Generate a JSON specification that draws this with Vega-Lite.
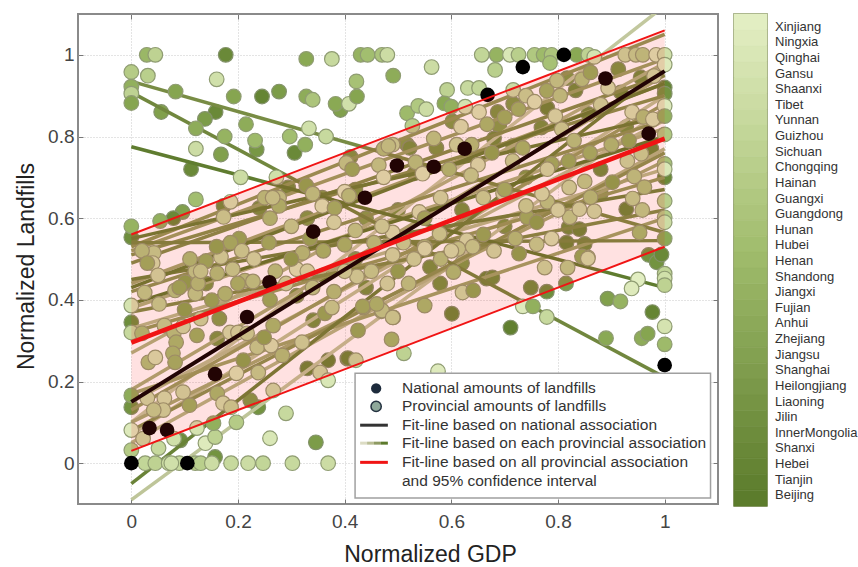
{"$schema":"https://vega.github.io/schema/vega-lite/v6.json","padding":{"left":14,"top":12,"right":0,"bottom":0},"spacing":12,"background":"white","config":{"font":"Liberation Sans","axis":{"labelFont":"Liberation Sans","titleFont":"Liberation Sans"},"text":{"font":"Liberation Sans"}},
"datasets":{
"points":[
{"x":0.029,"y":1,"rank":17},{"x":0.045,"y":1,"rank":9},{"x":0.177,"y":1,"rank":28},{"x":0.328,"y":0.99,"rank":21},{"x":0.376,"y":0.99,"rank":7},{"x":0.43,"y":1,"rank":18},{"x":0.443,"y":1,"rank":15},{"x":0.47,"y":1,"rank":13},{"x":0.48,"y":1,"rank":6},
{"x":0.657,"y":1,"rank":8},{"x":0.685,"y":1,"rank":18},{"x":0.71,"y":1,"rank":3},{"x":0.726,"y":1,"rank":10},{"x":0.756,"y":1,"rank":12},{"x":0.773,"y":1,"rank":16},{"x":0.788,"y":1,"rank":13},{"x":0.835,"y":1,"rank":21},{"x":0.857,"y":1,"rank":9},{"x":0.868,"y":0.995,"rank":4},{"x":0.785,"y":0.98,"rank":14},{"x":0.682,"y":0.963,"rank":10},{"x":0.563,"y":0.97,"rank":6},{"x":0.491,"y":0.949,"rank":20},
{"x":0.926,"y":1,"rank":7},{"x":0.946,"y":1,"rank":9},{"x":0.959,"y":1,"rank":11},{"x":0.984,"y":1,"rank":3},{"x":1,"y":1,"rank":5},{"x":1,"y":0.976,"rank":2},
{"x":0,"y":0.958,"rank":11},{"x":0.031,"y":0.949,"rank":10},{"x":0,"y":0.922,"rank":19},{"x":0,"y":0.905,"rank":9},{"x":0,"y":0.882,"rank":22},{"x":0.056,"y":0.86,"rank":23},{"x":0.083,"y":0.91,"rank":22},{"x":0.158,"y":0.86,"rank":28},{"x":0.138,"y":0.843,"rank":24},{"x":0.121,"y":0.82,"rank":20},{"x":0.175,"y":0.8,"rank":18},{"x":0.192,"y":0.898,"rank":22},{"x":0.16,"y":0.94,"rank":5},{"x":0.245,"y":0.898,"rank":29},{"x":0.277,"y":0.91,"rank":24},{"x":0.215,"y":0.83,"rank":20},{"x":0.232,"y":0.79,"rank":16},{"x":0.235,"y":0.768,"rank":25},{"x":0.168,"y":0.756,"rank":23},{"x":0.121,"y":0.77,"rank":6},{"x":0.112,"y":0.72,"rank":28},{"x":0.205,"y":0.7,"rank":6},{"x":0.272,"y":0.7,"rank":5},{"x":0.121,"y":0.646,"rank":15},{"x":0.186,"y":0.64,"rank":4},{"x":0.173,"y":0.63,"rank":27},{"x":0.173,"y":0.603,"rank":8},{"x":0.096,"y":0.615,"rank":23},{"x":0.079,"y":0.6,"rank":28},{"x":0.054,"y":0.593,"rank":19},{"x":0,"y":0.58,"rank":18},{"x":0,"y":0.553,"rank":27},
{"x":0.328,"y":0.898,"rank":20},{"x":0.34,"y":0.89,"rank":13},{"x":0.383,"y":0.88,"rank":21},{"x":0.392,"y":0.865,"rank":23},{"x":0.408,"y":0.88,"rank":5},{"x":0.423,"y":0.898,"rank":22},{"x":0.422,"y":0.935,"rank":14},{"x":0.297,"y":0.8,"rank":15},{"x":0.326,"y":0.78,"rank":19},{"x":0.306,"y":0.76,"rank":28},{"x":0.333,"y":0.82,"rank":5},{"x":0.365,"y":0.8,"rank":7},{"x":0.411,"y":0.75,"rank":25},{"x":0.403,"y":0.735,"rank":10},{"x":0.414,"y":0.72,"rank":19},{"x":0.473,"y":0.77,"rank":13},{"x":0.49,"y":0.78,"rank":8},{"x":0.464,"y":0.73,"rank":10},{"x":0.473,"y":0.7,"rank":3},{"x":0.4,"y":0.665,"rank":2},{"x":0.42,"y":0.67,"rank":24},{"x":0.408,"y":0.655,"rank":12},
{"x":0.328,"y":0.68,"rank":21},{"x":0.294,"y":0.675,"rank":27},{"x":0.34,"y":0.66,"rank":11},{"x":0.358,"y":0.65,"rank":23},{"x":0.358,"y":0.63,"rank":3},{"x":0.381,"y":0.625,"rank":17},{"x":0.25,"y":0.65,"rank":12},{"x":0.277,"y":0.65,"rank":10},{"x":0.277,"y":0.63,"rank":15},{"x":0.24,"y":0.625,"rank":26},{"x":0.265,"y":0.65,"rank":9},
{"x":0.202,"y":0.55,"rank":20},{"x":0.186,"y":0.54,"rank":17},{"x":0.258,"y":0.54,"rank":18},{"x":0.335,"y":0.55,"rank":20},{"x":0.321,"y":0.515,"rank":13},{"x":0.4,"y":0.535,"rank":16},{"x":0.455,"y":0.54,"rank":12},{"x":0.49,"y":0.565,"rank":4},{"x":0.51,"y":0.54,"rank":8},{"x":0.042,"y":0.515,"rank":9},{"x":0.04,"y":0.49,"rank":5},{"x":0.14,"y":0.495,"rank":19},{"x":0.168,"y":0.505,"rank":7},{"x":0.207,"y":0.52,"rank":8},{"x":0.19,"y":0.475,"rank":9},{"x":0.12,"y":0.47,"rank":10},{"x":0.31,"y":0.475,"rank":3},{"x":0.49,"y":0.51,"rank":6},
{"x":0.592,"y":0.914,"rank":9},{"x":0.631,"y":0.919,"rank":7},{"x":0.652,"y":0.919,"rank":8},{"x":0.587,"y":0.881,"rank":21},{"x":0.6,"y":0.873,"rank":19},{"x":0.626,"y":0.873,"rank":4},{"x":0.517,"y":0.857,"rank":16},{"x":0.538,"y":0.875,"rank":12},{"x":0.553,"y":0.867,"rank":6},{"x":0.527,"y":0.826,"rank":10},{"x":0.602,"y":0.837,"rank":24},{"x":0.618,"y":0.824,"rank":4},{"x":0.652,"y":0.86,"rank":3},{"x":0.667,"y":0.83,"rank":15},{"x":0.687,"y":0.86,"rank":25},{"x":0.7,"y":0.847,"rank":18},{"x":0.69,"y":0.825,"rank":23},{"x":0.716,"y":0.914,"rank":6},{"x":0.74,"y":0.9,"rank":8},{"x":0.716,"y":0.88,"rank":24},{"x":0.726,"y":0.867,"rank":17},{"x":0.756,"y":0.885,"rank":3},{"x":0.78,"y":0.87,"rank":28},{"x":0.795,"y":0.85,"rank":5},{"x":0.769,"y":0.822,"rank":26},{"x":0.779,"y":0.912,"rank":17},{"x":0.804,"y":0.9,"rank":11},{"x":0.798,"y":0.937,"rank":10},{"x":0.817,"y":0.943,"rank":24},{"x":0.845,"y":0.94,"rank":12},{"x":0.861,"y":0.957,"rank":19},{"x":0.833,"y":0.913,"rank":27},{"x":0.88,"y":0.878,"rank":7},{"x":0.857,"y":0.855,"rank":27},{"x":0.807,"y":0.818,"rank":8},{"x":0.894,"y":0.919,"rank":5},{"x":0.913,"y":0.965,"rank":25},{"x":0.955,"y":0.945,"rank":27},{"x":0.98,"y":0.948,"rank":6},{"x":0.918,"y":0.908,"rank":28},{"x":0.939,"y":0.86,"rank":4},{"x":0.96,"y":0.848,"rank":13},{"x":0.978,"y":0.842,"rank":4},{"x":0.928,"y":0.823,"rank":26},{"x":0.933,"y":0.79,"rank":20},{"x":0.956,"y":0.758,"rank":8},{"x":0.975,"y":0.77,"rank":28},
{"x":0.482,"y":0.777,"rank":10},{"x":0.517,"y":0.78,"rank":23},{"x":0.522,"y":0.772,"rank":26},{"x":0.567,"y":0.795,"rank":11},{"x":0.572,"y":0.772,"rank":25},{"x":0.61,"y":0.78,"rank":7},{"x":0.638,"y":0.78,"rank":13},{"x":0.68,"y":0.795,"rank":27},{"x":0.716,"y":0.777,"rank":26},{"x":0.734,"y":0.772,"rank":16},{"x":0.676,"y":0.76,"rank":21},{"x":0.715,"y":0.74,"rank":8},{"x":0.533,"y":0.737,"rank":12},{"x":0.546,"y":0.709,"rank":3},{"x":0.596,"y":0.72,"rank":14},{"x":0.65,"y":0.731,"rank":4},{"x":0.637,"y":0.705,"rank":9},{"x":0.531,"y":0.71,"rank":26},{"x":0.788,"y":0.733,"rank":18},{"x":0.86,"y":0.76,"rank":17},
{"x":1,"y":0.805,"rank":12},{"x":1,"y":0.875,"rank":2},{"x":1,"y":0.92,"rank":29},{"x":1,"y":0.905,"rank":26},{"x":1,"y":0.85,"rank":19},{"x":1,"y":0.733,"rank":14},{"x":1,"y":0.72,"rank":3},{"x":1,"y":0.7,"rank":28},{"x":1,"y":0.642,"rank":10},{"x":1,"y":0.602,"rank":11},{"x":1,"y":0.59,"rank":6},{"x":1,"y":0.55,"rank":21},{"x":0.97,"y":0.51,"rank":26},
{"x":0.697,"y":0.661,"rank":5},{"x":0.578,"y":0.562,"rank":8},{"x":0.629,"y":0.546,"rank":5},{"x":0.613,"y":0.525,"rank":9},{"x":0.55,"y":0.53,"rank":12},{"x":0.55,"y":0.525,"rank":4},{"x":0.54,"y":0.615,"rank":4},{"x":0.742,"y":0.602,"rank":18},{"x":0.727,"y":0.513,"rank":22},{"x":0.76,"y":0.536,"rank":9},{"x":0.788,"y":0.55,"rank":4},{"x":0.816,"y":0.54,"rank":28},{"x":0.82,"y":0.578,"rank":27},{"x":0.84,"y":0.573,"rank":28},{"x":0.85,"y":0.537,"rank":27},{"x":0.856,"y":0.504,"rank":7},{"x":0.822,"y":0.602,"rank":10},{"x":0.84,"y":0.622,"rank":6},{"x":0.868,"y":0.617,"rank":6},{"x":0.861,"y":0.651,"rank":13},{"x":0.902,"y":0.688,"rank":22},{"x":0.943,"y":0.702,"rank":11},{"x":0.962,"y":0.676,"rank":13},{"x":0.94,"y":0.648,"rank":9},{"x":0.958,"y":0.62,"rank":10},{"x":0.928,"y":0.622,"rank":28},{"x":0.953,"y":0.565,"rank":15},{"x":0.821,"y":0.675,"rank":7},
{"x":0.604,"y":0.468,"rank":14},{"x":0.579,"y":0.44,"rank":26},{"x":0.621,"y":0.418,"rank":6},{"x":0.641,"y":0.423,"rank":21},{"x":0.666,"y":0.452,"rank":28},{"x":0.677,"y":0.455,"rank":27},{"x":0.749,"y":0.43,"rank":27},{"x":0.779,"y":0.42,"rank":27},{"x":0.815,"y":0.44,"rank":24},{"x":0.775,"y":0.479,"rank":7},{"x":0.818,"y":0.479,"rank":10},{"x":0.845,"y":0.506,"rank":20},{"x":0.856,"y":0.501,"rank":5},{"x":0.985,"y":0.492,"rank":26},{"x":0.994,"y":0.511,"rank":28},{"x":1,"y":0.464,"rank":8},{"x":1,"y":0.452,"rank":5},{"x":1,"y":0.436,"rank":9},{"x":0.95,"y":0.45,"rank":1},{"x":0.938,"y":0.428,"rank":2},{"x":0.893,"y":0.403,"rank":23},{"x":0.917,"y":0.396,"rank":18},{"x":0.734,"y":0.384,"rank":2},{"x":0.753,"y":0.384,"rank":19},{"x":0.779,"y":0.358,"rank":7},{"x":0.711,"y":0.332,"rank":30},{"x":0.601,"y":0.366,"rank":28},{"x":0.55,"y":0.386,"rank":15},{"x":0.488,"y":0.303,"rank":16},{"x":0.511,"y":0.269,"rank":9},{"x":0.421,"y":0.252,"rank":7},{"x":0.405,"y":0.256,"rank":27},{"x":0.575,"y":0.225,"rank":2},{"x":0.435,"y":0.381,"rank":13},{"x":0.469,"y":0.372,"rank":8},{"x":0.491,"y":0.357,"rank":20},{"x":0.425,"y":0.325,"rank":20},{"x":0.977,"y":0.37,"rank":29},{"x":1,"y":0.335,"rank":4},{"x":1,"y":0.291,"rank":16},{"x":0.89,"y":0.306,"rank":21},{"x":0.957,"y":0.306,"rank":20},{"x":0.968,"y":0.317,"rank":22},
{"x":0.025,"y":0.418,"rank":10},{"x":0.082,"y":0.423,"rank":12},{"x":0.12,"y":0.415,"rank":10},{"x":0.052,"y":0.39,"rank":9},{"x":0.1,"y":0.376,"rank":22},{"x":0.151,"y":0.399,"rank":20},{"x":0.176,"y":0.415,"rank":14},{"x":0,"y":0.386,"rank":4},{"x":0,"y":0.345,"rank":27},{"x":0,"y":0.32,"rank":7},{"x":0.02,"y":0.318,"rank":14},{"x":0.062,"y":0.337,"rank":9},{"x":0.08,"y":0.32,"rank":12},{"x":0.084,"y":0.296,"rank":15},{"x":0.123,"y":0.313,"rank":18},{"x":0.161,"y":0.305,"rank":25},{"x":0.165,"y":0.354,"rank":23},{"x":0.13,"y":0.354,"rank":7},{"x":0.097,"y":0.335,"rank":6},{"x":0.032,"y":0.247,"rank":13},{"x":0.045,"y":0.259,"rank":4},{"x":0.078,"y":0.269,"rank":15},{"x":0.082,"y":0.247,"rank":17},{"x":0.185,"y":0.32,"rank":5},{"x":0.2,"y":0.32,"rank":6},{"x":0.217,"y":0.318,"rank":8},{"x":0.236,"y":0.284,"rank":9},{"x":0.262,"y":0.288,"rank":4},{"x":0.249,"y":0.308,"rank":21},{"x":0.266,"y":0.337,"rank":15},{"x":0.21,"y":0.252,"rank":22},{"x":0.283,"y":0.264,"rank":13},{"x":0.32,"y":0.296,"rank":7},{"x":0.197,"y":0.22,"rank":3},{"x":0.238,"y":0.222,"rank":9},{"x":0.33,"y":0.232,"rank":28},{"x":0.369,"y":0.252,"rank":29},{"x":0.406,"y":0.257,"rank":28},{"x":0.354,"y":0.222,"rank":6},{"x":0.369,"y":0.203,"rank":3},{"x":0.266,"y":0.178,"rank":6},{"x":0.341,"y":0.35,"rank":26},{"x":0.363,"y":0.367,"rank":20},{"x":0.434,"y":0.384,"rank":18},{"x":0.47,"y":0.374,"rank":10},{"x":0.49,"y":0.357,"rank":8},{"x":0.376,"y":0.381,"rank":9},
{"x":0.161,"y":0.465,"rank":13},{"x":0.213,"y":0.447,"rank":12},{"x":0.228,"y":0.445,"rank":11},{"x":0.101,"y":0.443,"rank":22},{"x":0.125,"y":0.44,"rank":13},{"x":0.423,"y":0.457,"rank":7},
{"x":0,"y":0.166,"rank":20},{"x":0,"y":0.137,"rank":26},{"x":0.03,"y":0.159,"rank":6},{"x":0.062,"y":0.159,"rank":5},{"x":0.06,"y":0.13,"rank":7},{"x":0.042,"y":0.13,"rank":9},{"x":0.097,"y":0.174,"rank":6},{"x":0.109,"y":0.142,"rank":18},{"x":0.161,"y":0.171,"rank":15},{"x":0.172,"y":0.147,"rank":5},{"x":0.187,"y":0.137,"rank":8},{"x":0.238,"y":0.137,"rank":26},{"x":0.223,"y":0.154,"rank":24},{"x":0,"y":0.081,"rank":2},{"x":0,"y":0.032,"rank":11},{"x":0.022,"y":0.06,"rank":6},{"x":0.051,"y":0.037,"rank":7},{"x":0.08,"y":0.06,"rank":5},{"x":0.092,"y":0.056,"rank":27},{"x":0.123,"y":0.086,"rank":4},{"x":0.139,"y":0.049,"rank":2},{"x":0.157,"y":0.064,"rank":9},{"x":0.157,"y":0.015,"rank":26},{"x":0.197,"y":0.1,"rank":11},{"x":0.154,"y":0.098,"rank":19},{"x":0.29,"y":0.122,"rank":7},{"x":0.26,"y":0.061,"rank":3},{"x":0.346,"y":0.051,"rank":24},
{"x":0.026,"y":0,"rank":8},{"x":0.045,"y":0,"rank":9},{"x":0.07,"y":0,"rank":6},{"x":0.09,"y":0,"rank":7},{"x":0.12,"y":0,"rank":11},{"x":0.13,"y":0,"rank":10},{"x":0.151,"y":0,"rank":6},{"x":0.187,"y":0,"rank":7},{"x":0.219,"y":0,"rank":6},{"x":0.247,"y":0,"rank":8},{"x":0.302,"y":0,"rank":7},{"x":0.369,"y":0,"rank":6},{"x":0.075,"y":0,"rank":5},
{"x":0.02,"y":0.52,"rank":12},{"x":0.03,"y":0.49,"rank":18},{"x":0.05,"y":0.46,"rank":6},{"x":0.09,"y":0.43,"rank":19},{"x":0.11,"y":0.5,"rank":14},{"x":0.14,"y":0.44,"rank":25},{"x":0.16,"y":0.53,"rank":21},{"x":0.13,"y":0.47,"rank":9},{"x":0.2,"y":0.44,"rank":16},{"x":0.23,"y":0.5,"rank":6},{"x":0.27,"y":0.47,"rank":12},{"x":0.29,"y":0.44,"rank":7},{"x":0.31,"y":0.41,"rank":25},{"x":0.34,"y":0.43,"rank":10},{"x":0.26,"y":0.4,"rank":19},{"x":0.3,"y":0.5,"rank":22},{"x":0.33,"y":0.47,"rank":5},{"x":0.36,"y":0.46,"rank":28},{"x":0.38,"y":0.42,"rank":13},{"x":0.4,"y":0.47,"rank":7},{"x":0.42,"y":0.5,"rank":24},{"x":0.45,"y":0.47,"rank":9},{"x":0.44,"y":0.43,"rank":26},{"x":0.46,"y":0.39,"rank":15},{"x":0.48,"y":0.44,"rank":6},{"x":0.5,"y":0.47,"rank":21},{"x":0.52,"y":0.44,"rank":11},{"x":0.53,"y":0.5,"rank":7},{"x":0.56,"y":0.48,"rank":26},{"x":0.58,"y":0.5,"rank":12},{"x":0.6,"y":0.52,"rank":5},{"x":0.62,"y":0.49,"rank":24},{"x":0.64,"y":0.53,"rank":9},{"x":0.66,"y":0.56,"rank":20},{"x":0.68,"y":0.52,"rank":6},{"x":0.7,"y":0.58,"rank":25},{"x":0.72,"y":0.55,"rank":13},{"x":0.74,"y":0.63,"rank":8},{"x":0.76,"y":0.59,"rank":22},{"x":0.78,"y":0.64,"rank":11},{"x":0.8,"y":0.62,"rank":5},{"x":0.55,"y":0.6,"rank":18},{"x":0.5,"y":0.62,"rank":25},{"x":0.47,"y":0.58,"rank":7},{"x":0.44,"y":0.6,"rank":23},{"x":0.42,"y":0.57,"rank":10},{"x":0.38,"y":0.59,"rank":5},{"x":0.36,"y":0.52,"rank":16},{"x":0.33,"y":0.6,"rank":24},{"x":0.3,"y":0.58,"rank":9},{"x":0.26,"y":0.6,"rank":14},{"x":0.58,"y":0.65,"rank":6},{"x":0.62,"y":0.62,"rank":26},{"x":0.66,"y":0.65,"rank":8},{"x":0.7,"y":0.67,"rank":17},{"x":0.74,"y":0.7,"rank":24},{"x":0.78,"y":0.72,"rank":6},{"x":0.82,"y":0.74,"rank":19},{"x":0.85,"y":0.69,"rank":10},{"x":0.88,"y":0.72,"rank":27},{"x":0.9,"y":0.78,"rank":14},{"x":0.93,"y":0.74,"rank":7},{"x":0.88,"y":0.66,"rank":23},{"x":0.83,"y":0.79,"rank":12},{"x":0.77,"y":0.66,"rank":5}
],
"fits":[
{"rank":1,"x":0,"y":0.1},{"rank":1,"x":1,"y":1.12},{"rank":2,"x":0,"y":-0.09},{"rank":2,"x":1,"y":0.87},{"rank":3,"x":0,"y":0.07},{"rank":3,"x":1,"y":0.9},{"rank":4,"x":0,"y":0.15},{"rank":4,"x":1,"y":0.84},{"rank":5,"x":0,"y":0.33},{"rank":5,"x":1,"y":0.72},{"rank":6,"x":0,"y":0.05},{"rank":6,"x":1,"y":0.77},{"rank":7,"x":0,"y":0.27},{"rank":7,"x":1,"y":0.98},{"rank":8,"x":0,"y":0.38},{"rank":8,"x":1,"y":0.82},{"rank":9,"x":0,"y":0.18},{"rank":9,"x":1,"y":0.95},{"rank":10,"x":0,"y":0.1},{"rank":10,"x":1,"y":0.74},{"rank":11,"x":0,"y":0.44},{"rank":11,"x":1,"y":0.93},{"rank":12,"x":0,"y":0.17},{"rank":12,"x":1,"y":0.6},{"rank":13,"x":0,"y":0.52},{"rank":13,"x":1,"y":0.99},{"rank":14,"x":0,"y":0.13},{"rank":14,"x":1,"y":0.88},{"rank":15,"x":0,"y":0.32},{"rank":15,"x":1,"y":0.7},{"rank":16,"x":0,"y":0.53},{"rank":16,"x":1,"y":1.05},{"rank":17,"x":0,"y":0.42},{"rank":17,"x":1,"y":0.84},{"rank":18,"x":0,"y":0.08},{"rank":18,"x":1,"y":0.76},{"rank":19,"x":0,"y":0.51},{"rank":19,"x":1,"y":0.9},{"rank":20,"x":0,"y":0.49},{"rank":20,"x":1,"y":0.95},{"rank":21,"x":0,"y":0.37},{"rank":21,"x":1,"y":0.62},{"rank":22,"x":0,"y":0.935},{"rank":22,"x":1,"y":0.565},{"rank":23,"x":0,"y":0.54},{"rank":23,"x":1,"y":0.545},{"rank":24,"x":0,"y":0.908},{"rank":24,"x":1,"y":0.21},{"rank":25,"x":0,"y":0.45},{"rank":25,"x":1,"y":0.67},{"rank":26,"x":0,"y":-0.05},{"rank":26,"x":1,"y":0.97},{"rank":27,"x":0,"y":0.55},{"rank":27,"x":1,"y":0.85},{"rank":28,"x":0,"y":0.43},{"rank":28,"x":1,"y":0.93},{"rank":29,"x":0,"y":0.775},{"rank":29,"x":1,"y":0.43},{"rank":30,"x":0,"y":0.39},{"rank":30,"x":1,"y":0.8}
],
"national":[
{"x":0,"y":0},{"x":0.034,"y":0.086},{"x":0.067,"y":0.081},{"x":0.105,"y":0},{"x":0.157,"y":0.218},{"x":0.217,"y":0.358},{"x":0.259,"y":0.443},{"x":0.341,"y":0.567},{"x":0.438,"y":0.65},{"x":0.498,"y":0.729},{"x":0.567,"y":0.726},{"x":0.625,"y":0.77},{"x":0.668,"y":0.902},{"x":0.734,"y":0.97},{"x":0.811,"y":1},{"x":0.889,"y":0.942},{"x":0.97,"y":0.807},{"x":1,"y":0.24}
],
"provinces":[
{"name":"Xinjiang","rank":1},{"name":"Ningxia","rank":2},{"name":"Qinghai","rank":3},{"name":"Gansu","rank":4},{"name":"Shaanxi","rank":5},{"name":"Tibet","rank":6},{"name":"Yunnan","rank":7},{"name":"Guizhou","rank":8},{"name":"Sichuan","rank":9},{"name":"Chongqing","rank":10},{"name":"Hainan","rank":11},{"name":"Guangxi","rank":12},{"name":"Guangdong","rank":13},{"name":"Hunan","rank":14},{"name":"Hubei","rank":15},{"name":"Henan","rank":16},{"name":"Shandong","rank":17},{"name":"Jiangxi","rank":18},{"name":"Fujian","rank":19},{"name":"Anhui","rank":20},{"name":"Zhejiang","rank":21},{"name":"Jiangsu","rank":22},{"name":"Shanghai","rank":23},{"name":"Heilongjiang","rank":24},{"name":"Liaoning","rank":25},{"name":"Jilin","rank":26},{"name":"InnerMongolia","rank":27},{"name":"Shanxi","rank":28},{"name":"Hebei","rank":29},{"name":"Tianjin","rank":30},{"name":"Beijing","rank":31}
]
},
"hconcat":[
{"width":640,"height":490,"view":{"stroke":"#8a8a8a","strokeWidth":2},
"encoding":{"x":{"field":"x","type":"quantitative","scale":{"domain":[-0.1,1.1],"nice":false,"zero":false},"axis":null},"y":{"field":"y","type":"quantitative","scale":{"domain":[-0.1,1.1],"nice":false,"zero":false},"axis":null}},
"resolve":{"axis":{"x":"independent","y":"independent"},"scale":{"color":"independent"}},
"layer":[
{"data":{"name":"points"},"transform":[{"filter":"datum.rank>22"}],"mark":{"type":"point","filled":true,"size":215,"opacity":1,"stroke":"#83926a","strokeWidth":1.2},
"encoding":{"color":{"field":"rank","type":"quantitative","legend":null,"scale":{"domain":[22,31],"range":["#86a550","#5c7c2c"]}},
"x":{"field":"x","type":"quantitative","scale":{"domain":[-0.1,1.1],"nice":false,"zero":false},"axis":{"orient":"bottom","values":[0,0.2,0.4,0.6,0.8,1],"format":"~g","title":"Normalized GDP","titleFontSize":23,"titleFontWeight":"normal","titleColor":"#222","titlePadding":12,"titleX":352,"labelFontSize":19,"labelColor":"#444","labelPadding":13,"tickSize":-5,"tickColor":"#777","domain":false,"grid":true,"gridColor":"#c9c9c9","gridDash":[1,2]}},
"y":{"field":"y","type":"quantitative","scale":{"domain":[-0.1,1.1],"nice":false,"zero":false},"axis":{"orient":"left","values":[0,0.2,0.4,0.6,0.8,1],"format":"~g","title":"Normalized Landfills","titleFontSize":23,"titleFontWeight":"normal","titleColor":"#222","titlePadding":9,"titleY":252,"labelFontSize":19,"labelColor":"#444","labelPadding":9,"tickSize":-5,"tickColor":"#777","domain":false,"grid":true,"gridColor":"#c9c9c9","gridDash":[1,2]}}}},
{"data":{"name":"fits"},"mark":{"type":"line","strokeWidth":3.5,"clip":true},
"encoding":{"detail":{"field":"rank"},"color":{"field":"rank","type":"quantitative","legend":null,"scale":{"domain":[1,15,30],"range":["#c2c89e","#8f9c5a","#5c7a2c"]}},
"x":{"field":"x","type":"quantitative","scale":{"domain":[-0.1,1.1],"nice":false,"zero":false},"axis":{"orient":"top","values":[0,0.2,0.4,0.6,0.8,1],"labels":false,"title":null,"tickSize":-5,"tickColor":"#777","domain":false,"grid":false}},
"y":{"field":"y","type":"quantitative","scale":{"domain":[-0.1,1.1],"nice":false,"zero":false},"axis":{"orient":"right","values":[0,0.2,0.4,0.6,0.8,1],"labels":false,"title":null,"tickSize":-5,"tickColor":"#777","domain":false,"grid":false}}}},
{"data":{"name":"points"},"transform":[{"filter":"datum.rank<=22"}],"mark":{"type":"point","filled":true,"size":215,"opacity":1,"stroke":"#8f9c72","strokeWidth":1.2},
"encoding":{"color":{"field":"rank","type":"quantitative","legend":null,"scale":{"domain":[1,15.5,22],"range":["#e2eec2","#a0bc6c","#86a550"]}}}},
{"data":{"values":[{"x":0,"y":0.15},{"x":1,"y":0.96}]},"mark":{"type":"line","color":"#000","strokeWidth":4}},
{"data":{"name":"national"},"mark":{"type":"point","filled":true,"size":215,"color":"#000","opacity":1}},
{"data":{"values":[{"x":0,"lo":0.03,"hi":0.56},{"x":1,"lo":0.53,"hi":1.06}]},"mark":{"type":"area","color":"#ff2020","opacity":0.135},"encoding":{"y":{"field":"lo","type":"quantitative","scale":{"domain":[-0.1,1.1],"nice":false,"zero":false},"axis":null},"y2":{"field":"hi"}}},
{"data":{"values":[{"x":0,"y":0.56,"s":"upper"},{"x":1,"y":1.06,"s":"upper"},{"x":0,"y":0.03,"s":"lower"},{"x":1,"y":0.53,"s":"lower"}]},"mark":{"type":"line","color":"#f01414","strokeWidth":2},"encoding":{"detail":{"field":"s"}}},
{"data":{"values":[{"x":0,"y":0.295},{"x":1,"y":0.795}]},"mark":{"type":"line","color":"#f01414","strokeWidth":4.5}},
{"data":{"values":[{"x":0.4195,"x2":1.086,"y":0.22,"y2":-0.0856}]},"mark":{"type":"rect","fill":"white","stroke":"#a0a0a0","strokeWidth":1.5},"encoding":{"x2":{"field":"x2"},"y2":{"field":"y2"}}},
{"data":{"values":[{"x":0.459,"y":0.183}]},"mark":{"type":"point","filled":true,"size":105,"color":"#1d2b3c","opacity":1}},
{"data":{"values":[{"x":0.459,"y":0.139}]},"mark":{"type":"point","filled":true,"size":105,"color":"#8ea89a","stroke":"#243240","strokeWidth":1.5,"opacity":1}},
{"data":{"values":[{"x":0.429,"x2":0.481,"y":0.093}]},"mark":{"type":"rule","color":"#333","strokeWidth":3},"encoding":{"x2":{"field":"x2"}}},
{"data":{"values":[{"x":0.429,"x2":0.442,"y":0.049,"c":"#dcdcc4"},{"x":0.442,"x2":0.455,"y":0.049,"c":"#b9bd94"},{"x":0.455,"x2":0.468,"y":0.049,"c":"#8e9a62"},{"x":0.468,"x2":0.481,"y":0.049,"c":"#5c7a2c"}]},"mark":{"type":"rule","strokeWidth":3},"encoding":{"x2":{"field":"x2"},"color":{"field":"c","type":"nominal","scale":null,"legend":null}}},
{"data":{"values":[{"x":0.429,"x2":0.481,"y":0.002}]},"mark":{"type":"rule","color":"#f01414","strokeWidth":3},"encoding":{"x2":{"field":"x2"}}},
{"data":{"values":[{"x":0.5075,"y":0.183,"label":"National amounts of landfills"},{"x":0.5075,"y":0.139,"label":"Provincial amounts of landfills"},{"x":0.5075,"y":0.093,"label":"Fit-line based on national association"},{"x":0.5075,"y":0.049,"label":"Fit-line based on each provincial association"},{"x":0.5075,"y":0.002,"label":"Fit-line based on all provincial association"},{"x":0.5075,"y":-0.044,"label":"and 95% confidence interval"}]},"mark":{"type":"text","align":"left","baseline":"middle","fontSize":15.5,"color":"#333"},"encoding":{"text":{"field":"label"}}}
]},
{"width":33,"height":492,"view":{"stroke":"#75824f","strokeWidth":1.5},"resolve":{"scale":{"y":"independent"}},
"layer":[
{"data":{"name":"provinces"},"mark":{"type":"rect","strokeWidth":0.6},"encoding":{"y":{"field":"name","type":"ordinal","sort":null,"axis":null,"scale":{"type":"band","paddingInner":0,"paddingOuter":0}},"color":{"field":"rank","type":"quantitative","legend":null,"scale":{"domain":[1,15.5,31],"range":["#e2eec2","#a0bc6c","#5c7c2c"]}},"stroke":{"field":"rank","type":"quantitative","legend":null,"scale":{"domain":[1,15.5,31],"range":["#e2eec2","#a0bc6c","#5c7c2c"]}}}},
{"data":{"name":"provinces"},"mark":{"type":"text","align":"left","baseline":"middle","fontSize":13,"color":"#333","x":41},"encoding":{"y":{"field":"name","type":"ordinal","sort":null,"axis":null,"scale":{"type":"point","range":[5,489]}},"text":{"field":"name"}}}
]}
]}
